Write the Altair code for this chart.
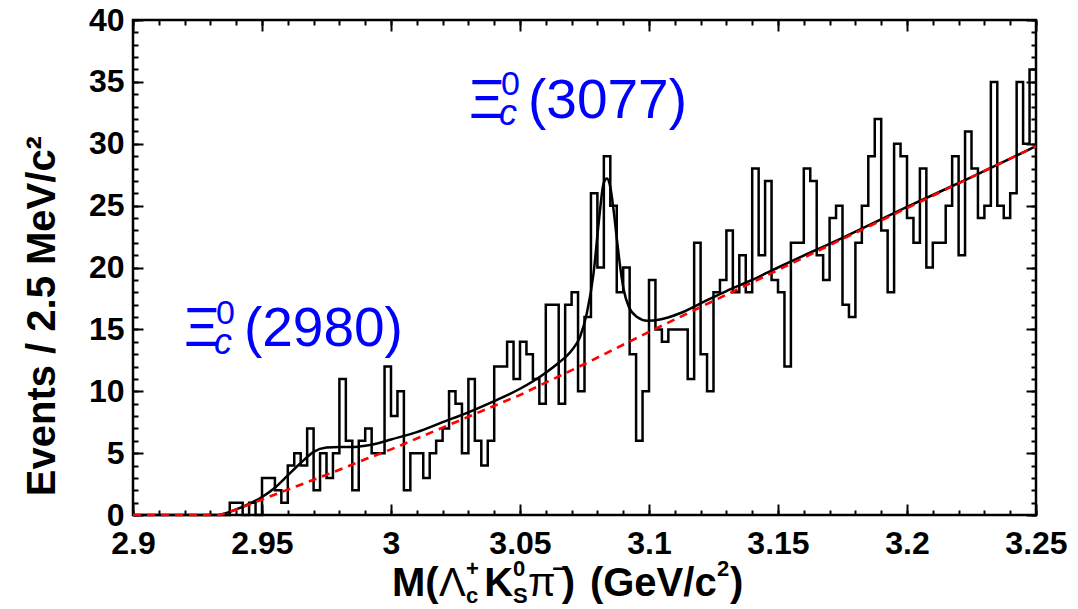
import altair as alt
import pandas as pd

FONT = "Liberation Sans"
BLUE = "#0000ff"

# ---------------- data ----------------
X_DOMAIN = [2.9, 3.25]
Y_DOMAIN = [0, 40]
BIN_START = 2.9
BIN_WIDTH = 0.0025  # GeV (2.5 MeV bins)

# events per 2.5 MeV bin, 140 bins from 2.900 to 3.250 GeV
bin_counts = [0] * 15 + [
    1, 1, 0, 1, 0, 3, 3, 2, 1, 4,
    5, 4, 7, 2, 5, 3, 5, 11, 6, 2,
    6, 7, 5, 5, 12, 8, 10, 2, 5, 5,
    3, 5, 6, 7, 10, 9, 5, 11, 6, 4,
    6, 12, 12, 14, 11, 14, 13, 11, 9, 17,
    17, 9, 17, 18, 10, 16, 26, 20, 29, 25,
    18, 20, 13, 6, 10, 19, 15, 14, 15, 15,
    15, 11, 22, 13, 10, 18, 19, 23, 18, 21,
    18, 28, 21, 27, 19, 18, 12, 22, 22, 28,
    27, 21, 19, 24, 25, 17, 16, 22, 25, 29,
    32, 23, 18, 30, 29, 24, 22, 28, 20, 22,
    22, 25, 29, 21, 31, 28, 24, 25, 35, 25,
    24, 26, 35, 30, 36,
]

# total fit (black solid)
fit_mass = [2.9337, 2.94, 2.945, 2.95, 2.955, 2.96, 2.965, 2.97, 2.975, 2.98,
            2.985, 2.99, 2.995, 3.00, 3.01, 3.02, 3.03, 3.04, 3.05, 3.06,
            3.065, 3.07, 3.0733, 3.0759, 3.0785, 3.0805, 3.0824, 3.0837, 3.085, 3.0863,
            3.0876, 3.089, 3.0902, 3.0922, 3.0954, 3.0993, 3.1043, 3.112, 3.12, 3.13,
            3.14, 3.15, 3.175, 3.20, 3.225, 3.25]
fit_events = [0.0, 0.45, 0.9, 1.45, 2.2, 3.2, 4.2, 5.1, 5.45, 5.5,
              5.5, 5.6, 5.8, 6.1, 6.7, 7.5, 8.3, 9.2, 10.2, 11.5,
              12.3, 13.3, 14.4, 16.3, 19.5, 23.6, 26.8, 27.2, 26.5, 24.6,
              22.2, 19.8, 18.2, 16.8, 16.0, 15.7, 15.8, 16.3, 17.1, 18.1,
              19.0, 20.0, 22.4, 24.9, 27.3, 29.8]

# background (red dashed)
bkg_mass = [2.90, 2.9337, 2.94, 2.95, 2.96, 2.97, 2.98, 2.99, 3.00, 3.025,
            3.05, 3.075, 3.10, 3.125, 3.15, 3.175, 3.20, 3.225, 3.25]
bkg_events = [0.0, 0.0, 0.45, 1.25, 2.05, 2.85, 3.65, 4.5, 5.3, 7.5,
              9.7, 12.2, 14.8, 17.3, 19.8, 22.3, 24.8, 27.3, 29.8]

x_major_ticks = [2.9, 2.95, 3.0, 3.05, 3.1, 3.15, 3.2, 3.25]
x_minor_ticks = [round(2.9 + 0.01 * k, 2) for k in range(36)]
y_major_ticks = [0, 5, 10, 15, 20, 25, 30, 35, 40]
y_minor_ticks = list(range(0, 41))

# annotation pieces (text, mass, events)
peak_big = (["Ξ", "(3077)", "Ξ", "(2980)"],
            [3.0302, 3.0531, 2.9198, 2.9430],
            [32.07, 32.07, 13.65, 13.65])
peak_sup = (["0", "0"], [3.0426, 2.9322], [33.9, 15.4])
peak_sub = (["c", "c"], [3.0419, 2.9314], [31.5, 13.0])

# x-axis title pieces
xt_main = (["M(", "K", ")", "(GeV/c", ")"],
           [3.0004, 3.0361, 3.0662, 3.0771, 3.1314], [-6.55] * 5)
xt_greek = (["Λ", "π"], [3.0186, 3.0531], [-6.55, -6.55])
xt_sup = (["+", "0", "−", "2"], [3.0291, 3.0473, 3.0625, 3.1264], [-4.9] * 4)
xt_sub = (["c", "S"], [3.0291, 3.0473], [-7.15, -7.15])
yt = (["Events / 2.5 MeV/c²"], [2.8698], [16.07])

# ---------------- chart ----------------
PLOT_W, PLOT_H = 903, 495

hist_df = pd.DataFrame({
    "mass": [round(BIN_START + BIN_WIDTH * i, 4) for i in range(len(bin_counts))] + [X_DOMAIN[1]],
    "events": bin_counts + [bin_counts[-1]],
})
fit_df = pd.DataFrame({"mass": fit_mass, "events": fit_events})
bkg_df = pd.DataFrame({"mass": bkg_mass, "events": bkg_events})

xs = alt.Scale(domain=X_DOMAIN, nice=False, zero=False)
ys = alt.Scale(domain=Y_DOMAIN, nice=False, zero=False)


def enc_x(axis):
    if axis is None:
        return alt.X("mass:Q", scale=xs, axis=None, title=None)
    return alt.X("mass:Q", scale=xs, axis=axis, title=None)


def enc_y(axis):
    if axis is None:
        return alt.Y("events:Q", scale=ys, axis=None, title=None)
    return alt.Y("events:Q", scale=ys, axis=axis, title=None)


def tick_axis(orient, offset, values, size):
    return alt.Axis(orient=orient, offset=offset, values=values, ticks=True,
                    tickSize=size, tickWidth=2, tickColor="black",
                    labels=False, domain=False, grid=False)


x_label_axis = alt.Axis(orient="bottom", values=x_major_ticks, format="~g",
                        ticks=False, tickSize=0, domain=False, grid=False,
                        labelFont=FONT, labelFontSize=32, labelFontWeight="bold",
                        labelColor="black", labelPadding=13, labelBaseline="top",
                        labelFlush=False, labelOverlap=False)
y_label_axis = alt.Axis(orient="left", values=y_major_ticks, format="d",
                        ticks=False, tickSize=0, domain=False, grid=False,
                        labelFont=FONT, labelFontSize=32, labelFontWeight="bold",
                        labelColor="black", labelPadding=9, labelBaseline="middle",
                        labelFlush=False, labelOverlap=False)

hist = alt.Chart(hist_df).mark_line(
    interpolate="step-after", color="black", strokeWidth=2.5, strokeJoin="miter"
).encode(x=enc_x(x_label_axis), y=enc_y(y_label_axis))

fit = alt.Chart(fit_df).mark_line(
    interpolate="monotone", color="black", strokeWidth=2.5
).encode(x=enc_x(tick_axis("top", -PLOT_H, x_major_ticks, 11)),
         y=enc_y(tick_axis("right", -PLOT_W, y_major_ticks, 10)))

bkg = alt.Chart(bkg_df).mark_line(
    color="#ff0000", strokeWidth=2.6, strokeDash=[8, 6]
).encode(x=enc_x(tick_axis("top", -PLOT_H, x_minor_ticks, 5)),
         y=enc_y(tick_axis("right", -PLOT_W, y_minor_ticks, 5)))

outer_major = alt.Chart(bkg_df).mark_line(opacity=0).encode(
    x=enc_x(tick_axis("bottom", -PLOT_H, x_major_ticks, 11)),
    y=enc_y(tick_axis("left", -PLOT_W, y_major_ticks, 10)))
outer_minor = alt.Chart(bkg_df).mark_line(opacity=0).encode(
    x=enc_x(tick_axis("bottom", -PLOT_H, x_minor_ticks, 5)),
    y=enc_y(tick_axis("left", -PLOT_W, y_minor_ticks, 5)))


def text_layer(pieces, **kw):
    labels, masses, events = pieces
    df = pd.DataFrame({"label": labels, "mass": masses, "events": events})
    return alt.Chart(df).mark_text(**kw).encode(
        x=enc_x(None), y=enc_y(None), text="label:N")


common = dict(align="left", baseline="alphabetic", font=FONT)
texts = [
    text_layer(peak_big, fontSize=55, color=BLUE, **common),
    text_layer(peak_sup, fontSize=34, color=BLUE, **common),
    text_layer(peak_sub, fontSize=36, color=BLUE, fontStyle="italic", **common),
    text_layer(xt_main, fontSize=40, fontWeight="bold", color="black", **common),
    text_layer(xt_greek, fontSize=40, color="black", **common),
    text_layer(xt_sup, fontSize=22, fontWeight="bold", color="black", **common),
    text_layer(xt_sub, fontSize=22, fontWeight="bold", color="black", **common),
    text_layer(yt, fontSize=40, fontWeight="bold", color="black", angle=270,
               align="center", baseline="alphabetic", font=FONT),
]

chart = alt.layer(hist, fit, bkg, outer_major, outer_minor, *texts).resolve_axis(
    x="independent", y="independent"
).properties(
    width=PLOT_W, height=PLOT_H,
    autosize=alt.AutoSizeParams(type="none"),
    padding={"left": 133, "top": 20, "right": 42, "bottom": 94},
    background="white",
).configure_view(stroke="black", strokeWidth=2.5)

chart.save("out.html", embed_options={"renderer": "svg", "actions": False})
